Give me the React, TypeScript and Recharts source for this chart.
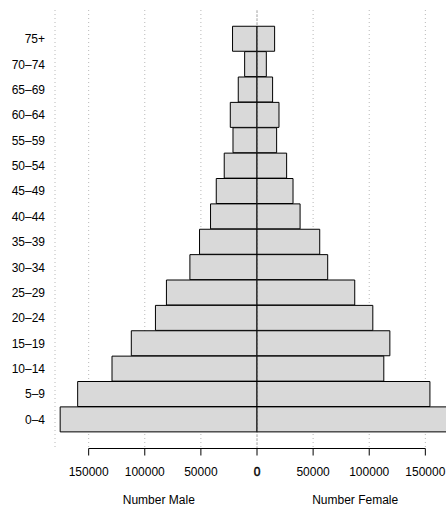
import React from "react";
import {
  BarChart,
  Bar,
  XAxis,
  YAxis,
  CartesianGrid,
  ReferenceLine,
} from "recharts";

const ageGroups = [
  "0–4", "5–9", "10–14", "15–19", "20–24", "25–29", "30–34", "35–39",
  "40–44", "45–49", "50–54", "55–59", "60–64", "65–69", "70–74", "75+",
];
const maleCounts = [
  175400, 159800, 129200, 112000, 90500, 80700, 59800, 51200,
  41400, 36300, 29200, 21400, 23800, 16700, 11000, 21800,
];
const femaleCounts = [
  175000, 154100, 113000, 118400, 103200, 87100, 63000, 55900,
  38400, 32100, 26400, 17500, 19600, 13900, 8300, 15700,
];
const xTicks = [-150000, -100000, -50000, 0, 50000, 100000, 150000];
const xDomain = [-180000, 180000];
const titlePositions = [-87500, 87500];
const titleLabels = ["Number Male", "Number Female"];

const data = ageGroups
  .map((g, i) => ({ group: g, male: -maleCounts[i], female: femaleCounts[i] }))
  .reverse();

const FONT = "'Liberation Sans', Arial, Helvetica, sans-serif";
const CHART_W = 459;
const CHART_H = 506;
const Y_AXIS_W = 55;
const TICK_SIZE = 7;
const TICK_MARGIN = 12;

// the axis line only runs between the first and the last tick (as in R)
const plotW = CHART_W - Y_AXIS_W;
const pxPerUnit = plotW / (xDomain[1] - xDomain[0]);
const axisLead = (xTicks[0] - xDomain[0]) * pxPerUnit;
const axisLen = (xTicks[xTicks.length - 1] - xTicks[0]) * pxPerUnit;

const XTick = (props: any) => {
  const { x, y, payload } = props;
  const v = payload.value;
  const zero = v === 0;
  return (
    <text
      x={x}
      y={y}
      dy="0.71em"
      textAnchor="middle"
      fontSize={12}
      fontFamily={FONT}
      fill="#000"
      stroke={zero ? "#000" : "none"}
      strokeWidth={zero ? 0.45 : 0}
    >
      {String(Math.abs(v))}
    </text>
  );
};

export default function App() {
  return (
    <div
      style={{
        position: "absolute",
        left: 0,
        top: 0,
        width: 446,
        height: 506,
        overflow: "hidden",
        background: "#fff",
      }}
    >
      <BarChart
        width={CHART_W}
        height={CHART_H}
        data={data}
        layout="vertical"
        stackOffset="sign"
        barCategoryGap={0}
        margin={{ top: 10, right: 0, bottom: 0, left: 0 }}
      >
        <CartesianGrid
          horizontal={false}
          stroke="#b8b8b8"
          strokeDasharray="1 3"
        />
        <XAxis
          type="number"
          domain={xDomain}
          ticks={xTicks}
          interval={0}
          axisLine={{
            stroke: "#000",
            strokeWidth: 1,
            strokeDasharray: `0 ${axisLead} ${axisLen} 2000`,
          }}
          tickLine={{ stroke: "#000" }}
          tickSize={TICK_SIZE}
          tickMargin={TICK_MARGIN}
          height={57.5}
          tick={<XTick />}
        />
        <YAxis
          type="category"
          dataKey="group"
          width={Y_AXIS_W}
          axisLine={false}
          tickLine={false}
          tickSize={0}
          tickMargin={10}
          interval={0}
          padding={{ top: 16.25, bottom: 16.25 }}
          tick={{ fontSize: 12, fontFamily: FONT, fill: "#000" }}
        />
        <ReferenceLine x={0} stroke="#444" strokeDasharray="1 3" />
        <Bar
          dataKey="male"
          stackId="pop"
          fill="#d9d9d9"
          stroke="#000"
          strokeWidth={1}
          isAnimationActive={false}
        />
        <Bar
          dataKey="female"
          stackId="pop"
          fill="#d9d9d9"
          stroke="#000"
          strokeWidth={1}
          isAnimationActive={false}
        />
        {titlePositions.map((p, i) => (
          <ReferenceLine
            key={titleLabels[i]}
            x={p}
            stroke="none"
            label={{
              value: titleLabels[i],
              position: "bottom",
              offset: 47,
              fontSize: 12,
              fontFamily: FONT,
              fill: "#000",
            }}
          />
        ))}
      </BarChart>
    </div>
  );
}
